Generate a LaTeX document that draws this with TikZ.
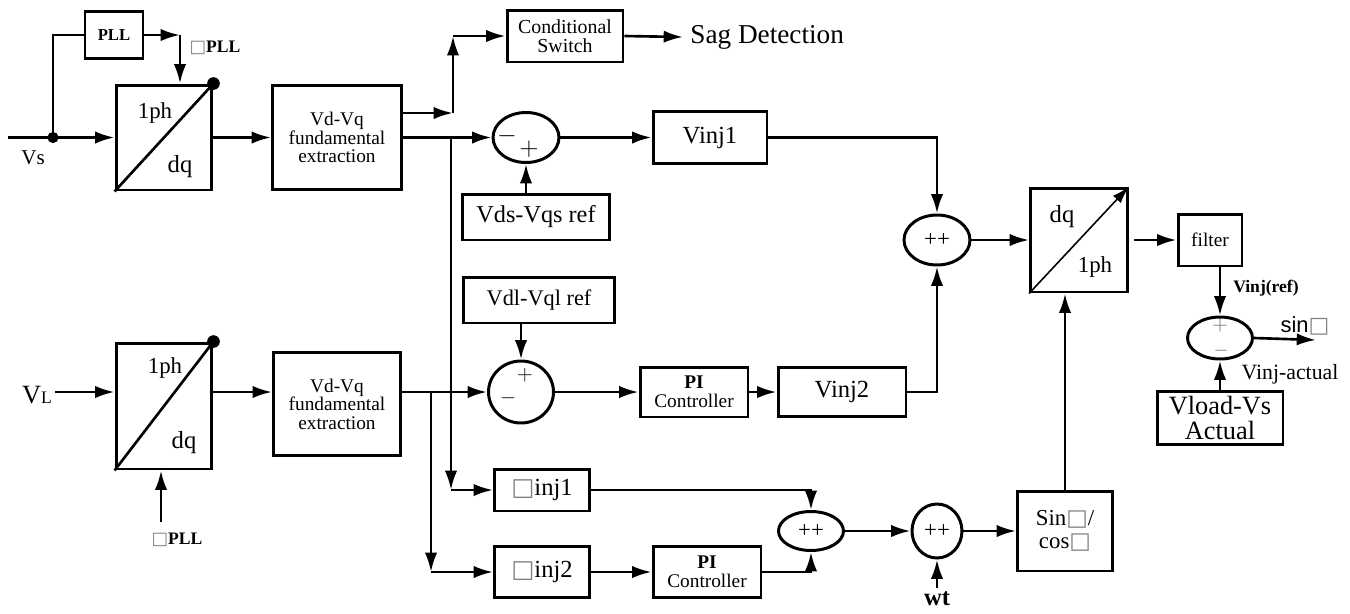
\documentclass[tikz,border=0pt]{standalone}
\usepackage{fontspec}
\setmainfont{Liberation Serif}
\newfontfamily\arialfont{Liberation Sans}
\newfontfamily\dejavufont{DejaVu Sans}
\usetikzlibrary{arrows.meta, shapes.geometric}
\newcommand{\fsz}[2]{\fontsize{#1}{#2}\selectfont}
\newcommand{\gsq}{{\dejavufont\color{gray}□}}

\tikzset{
  blk/.style={draw, line width=1.7pt, inner sep=0pt, align=center},
  sumnode/.style={draw, ellipse, line width=1.7pt, inner sep=0pt},
  wire/.style={line width=1.5pt},
  sig/.style={line width=1.5pt, -{Latex[length=11pt,width=7pt]}},
  lbl/.style={inner sep=0pt},
}

\begin{document}
\begin{tikzpicture}[x=0.02cm, y=-0.02cm]
\useasboundingbox (0,0) rectangle (1350,613);

% upper path (Vs)
\node[blk, minimum width=1.16cm, minimum height=0.94cm, font=\bfseries\fsz{9.5}{10}] (pll) at (114,35) {PLL};
\node[blk, minimum width=1.92cm, minimum height=2.1cm] (tfa) at (164,137.5) {};
\node[blk, minimum width=2.58cm, minimum height=2.08cm, font=\fsz{11}{10.5}] (exta) at (337,137.5) {Vd-Vq\\fundamental\\extraction};
\node[blk, minimum width=2.32cm, minimum height=1.04cm, font=\fsz{11.3}{10.8}] (csw) at (565,36) {Conditional\\Switch};
\node[lbl, inner sep=4pt, anchor=west, font=\fsz{15.5}{15.5}] (sag) at (683,37) {Sag Detection};
\node[sumnode, minimum width=1.32cm, minimum height=1.0cm] (suma) at (526,137.5) {};
\node[blk, minimum width=2.94cm, minimum height=0.92cm, font=\fsz{13.8}{14}] (vdsref) at (536,217) {Vds-Vqs ref};
\node[blk, minimum width=2.28cm, minimum height=1.04cm, font=\fsz{14}{14}] (vinja) at (710,137.5) {Vinj1};
\node[sumnode, minimum width=1.32cm, minimum height=1.0cm, font=\fsz{13}{13}] (sumb) at (937,240) {++};
\node[blk, minimum width=1.94cm, minimum height=2.08cm] (tfb) at (1079,240) {};
\node[blk, minimum width=1.28cm, minimum height=1.04cm, font=\fsz{11}{11}] (filt) at (1210,240) {filter};
\node[sumnode, minimum width=1.3cm, minimum height=0.84cm] (sumc) at (1220,338) {};
\node[blk, minimum width=2.52cm, minimum height=1.06cm, font=\fsz{15}{14}] (vlvs) at (1220,418) {Vload-Vs\\Actual};

% lower path (VL)
\node[blk, minimum width=1.92cm, minimum height=2.52cm] (tfc) at (164,406) {};
\node[blk, minimum width=2.54cm, minimum height=2.06cm, font=\fsz{11}{10.5}] (extb) at (337,404) {Vd-Vq\\fundamental\\extraction};
\node[sumnode, minimum width=1.3cm, minimum height=1.24cm] (sumd) at (521,392) {};
\node[blk, minimum width=3.04cm, minimum height=0.92cm, font=\fsz{12.7}{13}] (vdlref) at (539,300) {Vdl-Vql ref};
\node[blk, minimum width=2.16cm, minimum height=1.0cm, font=\fsz{11}{10.8}] (pia) at (694,392) {\textbf{PI}\\Controller};
\node[blk, minimum width=2.56cm, minimum height=0.98cm, font=\fsz{14}{14}] (vinjb) at (842,392) {Vinj2};
\node[blk, minimum width=1.9cm, minimum height=0.84cm, font=\fsz{14}{14}] (thinja) at (542,490) {\gsq inj1};
\node[blk, minimum width=1.9cm, minimum height=1.02cm, font=\fsz{14}{14}] (thinjb) at (542,572) {\gsq inj2};
\node[blk, minimum width=2.16cm, minimum height=1.02cm, font=\fsz{11}{10.8}] (pib) at (707,572) {\textbf{PI}\\Controller};
\node[sumnode, minimum width=1.3cm, minimum height=0.78cm, font=\fsz{13}{13}] (sume) at (811,531) {++};
\node[sumnode, minimum width=1.0cm, minimum height=1.08cm, font=\fsz{13}{13}] (sumf) at (937,531) {++};
\node[blk, minimum width=1.9cm, minimum height=1.6cm, font=\fsz{13}{13}] (sincos) at (1065,531) {Sin\gsq/\\cos\gsq};

% Vs input and PLL
\coordinate (vsin) at (8,137.5);
\coordinate (vsj) at (53,137.5);
\coordinate (pllin) at (53,35);
\coordinate (pllk) at (180,35);
\draw[wire] (vsin) -- (vsj);
\draw[sig] (vsj) -- (tfa.west);
\draw[wire] (vsj) -- (pllin) -- (pll.west);
\draw[sig] (pll.east) -- (pllk);
\draw[sig] (pllk) -- (pllk |- tfa.north);
\fill (vsj) circle (3.2pt);
\draw[wire] (tfa.south west) -- (tfa.north east);
\fill (tfa.north east) circle (3.6pt);
\node[lbl, font=\fsz{13}{13}] (tfa1) at (155,113) {1ph};
\node[lbl, font=\fsz{14}{14}] (tfa2) at (180,167) {dq};
\node[lbl, font=\fsz{12}{12}] (vslab) at (33,158) {Vs};
\node[lbl, font=\fsz{10}{10}] (thpa) at (215,48) {\gsq\textbf{PLL}};

\draw[sig] (tfa.east) -- (exta.west);
\coordinate (sab) at (453,113);
\coordinate (sac) at (453,36);
\draw[sig] (exta.east |- sab) -- (sab);
\draw[sig] (sab) -- (sac);
\draw[sig] (sac) -- (csw.west);
\draw[sig] (csw.east) -- (sag.west);

\draw[sig] (exta.east) -- (suma.west);
\coordinate (dra) at (451,137.5);
\coordinate (drb) at (451,490);
\draw[sig] (dra) -- (drb);
\draw[sig] (drb) -- (thinja.west);
\node[lbl, font=\fsz{14}{14}] (sa1) at (507,136) {$-$};
\node[lbl, font=\fsz{14}{14}] (sa2) at (529,149) {$+$};
\draw[sig] (vdsref.north -| suma.south) -- (suma.south);
\draw[sig] (suma.east) -- (vinja.west);
\draw[sig] (vinja.east) -| (sumb.north);
\draw[sig] (sumb.east) -- (tfb.west);
\draw[line width=0.9pt, -{Latex[length=10pt,width=6pt]}] (tfb.south west) -- (tfb.north east);
\node[lbl, font=\fsz{14}{14}] (tfb1) at (1062,217) {dq};
\node[lbl, font=\fsz{13}{13}] (tfb2) at (1095,267) {1ph};
\draw[sig] ([xshift=0.1cm]tfb.east) -- (filt.west);
\draw[sig] (sumc.north |- filt.south) -- (sumc.north);
\node[lbl, font=\bfseries\fsz{10}{10}] (vref) at (1266,288) {Vinj(ref)};
\node[lbl, font=\fsz{11}{11}, gray!80!black] (sc1) at (1220,326) {$+$};
\node[lbl, font=\fsz{11}{11}, gray!80!black] (sc2) at (1221,351) {$-$};
\coordinate (sout) at (1316,340);
\draw[sig] (sumc.east) -- (sout);
\node[lbl, font=\arialfont\fsz{12.5}{12.5}] (sinlab) at (1305,326) {sin\gsq};
\node[lbl, font=\fsz{12.4}{12.4}] (vact) at (1290,374) {Vinj-actual};
\draw[sig] (vlvs.north) -- (sumc.south);

% VL input
\coordinate (vlin) at (55,392);
\node[lbl] (vllab) at (37,395) {{\fsz{15}{15}V}{\fsz{10}{10}L}};
\draw[sig] (vlin) -- (tfc.west |- vlin);
\draw[wire] (tfc.south west) -- (tfc.north east);
\fill (tfc.north east) circle (3.6pt);
\node[lbl, font=\fsz{13}{13}] (tfc1) at (165,368) {1ph};
\node[lbl, font=\fsz{14}{14}] (tfc2) at (184,443) {dq};
\coordinate (thpin) at (161,522);
\draw[sig] (thpin) -- (thpin |- tfc.south);
\node[lbl, font=\fsz{10}{10}] (thpb) at (177,540) {\gsq\textbf{PLL}};
\draw[sig] (tfc.east |- vlin) -- (extb.west |- vlin);

\coordinate (drc) at (431,392);
\coordinate (drd) at (431,572);
\draw[sig] (extb.east |- vlin) -- (sumd.west);
\draw[sig] (drc) -- (drd);
\draw[sig] (drd) -- (thinjb.west);
\draw[sig] (sumd.north |- vdlref.south) -- (sumd.north);
\node[lbl, font=\fsz{13}{13}] (sd1) at (525,375) {$+$};
\node[lbl, font=\fsz{13}{13}] (sd2) at (508,398) {$-$};
\draw[sig] (sumd.east) -- (pia.west);
\draw[sig] (pia.east) -- (vinjb.west);
\draw[sig] (vinjb.east) -| (sumb.south);

\draw[sig] (thinja.east) -| (sume.north);
\draw[sig] (thinjb.east) -- (pib.west);
\draw[sig] (pib.east) -| (sume.south);
\draw[sig] (sume.east) -- (sumf.west);
\node[lbl, inner sep=2pt, font=\bfseries\fsz{14}{14}] (wt) at (937,599) {wt};
\draw[sig] (wt.north) -- (sumf.south);
\draw[sig] (sumf.east) -- (sincos.west);
\draw[sig] (sincos.north) -- (sincos.north |- tfb.south);
\end{tikzpicture}
\end{document}
